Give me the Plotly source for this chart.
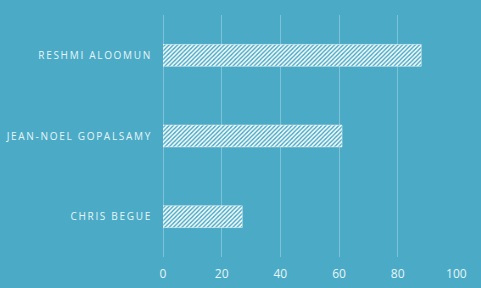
import plotly.graph_objects as go

names = ["CHRIS BEGUE", "JEAN-NOEL GOPALSAMY", "RESHMI ALOOMUN"]
values = [27, 61, 88]
x_ticks = [0, 20, 40, 60, 80, 100]

BG = "#4BABC6"
TXT = "#E6F5F9"
GRID = "#7CC3D7"

spaced = ['<span style="letter-spacing:1.7px">%s</span>' % n for n in names]

fig = go.Figure(go.Bar(
    x=values, y=names, orientation="h", width=0.27,
    marker=dict(color=BG, line=dict(color="white", width=0.5),
                pattern=dict(shape="/", fgcolor="white", bgcolor=BG,
                             size=3, solidity=0.5, fillmode="replace")),
))
fig.update_layout(
    width=481, height=288, paper_bgcolor=BG, plot_bgcolor=BG,
    margin=dict(l=163, r=24, t=15, b=31, autoexpand=False),
    showlegend=False,
    font=dict(family="Open Sans", color=TXT),
    xaxis=dict(range=[0, 100.2], tickvals=x_ticks, showgrid=True, gridcolor=GRID,
               gridwidth=1, zeroline=True, zerolinecolor=GRID, zerolinewidth=1,
               tickfont=dict(size=12, color=TXT), ticklabelstandoff=8,
               automargin=False),
    yaxis=dict(showgrid=False, tickmode="array", tickvals=names, ticktext=spaced,
               tickfont=dict(size=10, color=TXT), ticklabelstandoff=10,
               automargin=False),
)
fig.write_html("out.html")
